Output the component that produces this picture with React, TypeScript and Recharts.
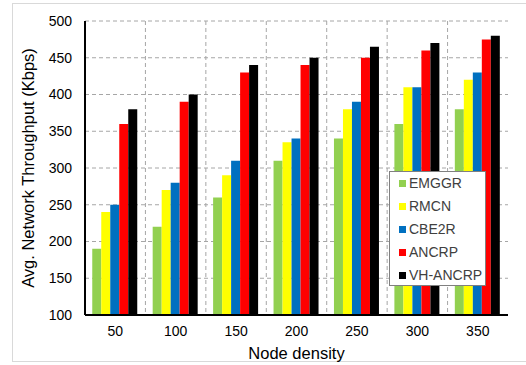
import React from 'react';
import { BarChart, Bar, XAxis, YAxis, CartesianGrid, Legend } from 'recharts';

const categories = ['50', '100', '150', '200', '250', '300', '350'];
const emggr = [190, 220, 260, 310, 340, 360, 380];
const rmcn = [240, 270, 290, 335, 380, 410, 420];
const cbe2r = [250, 280, 310, 340, 390, 410, 430];
const ancrp = [360, 390, 430, 440, 450, 460, 475];
const vhancrp = [380, 400, 440, 450, 465, 470, 480];
const yTicks = [100, 150, 200, 250, 300, 350, 400, 450, 500];

const seriesNames = ['EMGGR', 'RMCN', 'CBE2R', 'ANCRP', 'VH-ANCRP'];
const seriesColors = ['#92D050', '#FFFF00', '#0070C0', '#FF0000', '#000000'];
const seriesValues = [emggr, rmcn, cbe2r, ancrp, vhancrp];

const data = categories.map((c, i) => {
  const row: Record<string, number | string> = { x: c };
  seriesNames.forEach((n, s) => {
    row[n] = seriesValues[s][i];
  });
  return row;
});

const FONT = '"Liberation Sans", Arial, sans-serif';

const renderLegend = () => {
  return (
    <div
      style={{
        width: 97,
        height: 115,
        boxSizing: 'border-box',
        border: '1px solid #808080',
        background: '#fff',
        paddingTop: 0,
        fontFamily: FONT,
      }}
    >
      {seriesNames.map((n, s) => (
        <div key={n} style={{ display: 'flex', alignItems: 'center', height: 23, whiteSpace: 'nowrap' }}>
          <span style={{ display: 'inline-block', width: 7, height: 7, background: seriesColors[s], marginLeft: 9, marginRight: 3, flexShrink: 0 }} />
          <span style={{ fontSize: 14, color: '#404040', lineHeight: '23px' }}>{n}</span>
        </div>
      ))}
    </div>
  );
};

const YLabel = (props: any) => {
  const vb = props.viewBox || { x: 0, y: 0, width: 0, height: 0 };
  const cx = vb.x + 28;
  const cy = vb.y + vb.height / 2;
  return (
    <text
      x={cx}
      y={cy}
      transform={`rotate(-90, ${cx}, ${cy})`}
      textAnchor="middle"
      dominantBaseline="central"
      fontFamily={FONT}
      fontSize={16.5}
      fill="#000"
    >
      Avg. Network Throughput (Kbps)
    </text>
  );
};

export default function App() {
  return (
    <div style={{ position: 'absolute', left: 0, top: 0, width: 526, height: 365, background: '#fff' }}>
      <div
        style={{
          position: 'absolute',
          left: 12,
          top: 3,
          width: 530,
          height: 359,
          border: '1px solid #d9d9d9',
          boxSizing: 'border-box',
        }}
      />
      <div style={{ position: 'absolute', left: 0, top: 0 }}>
        <BarChart
          width={526}
          height={365}
          data={data}
          margin={{ top: 21, right: 18, bottom: 0, left: 0 }}
          barCategoryGap="12%"
          barGap={0}
        >
          <CartesianGrid
            stroke="#a6a6a6"
            strokeDasharray="4 3"
            verticalCoordinatesGenerator={({ offset }: any) =>
              categories.slice(1).map((_, k) => offset.left + (offset.width * (k + 1)) / categories.length)
            }
          />
          <XAxis
            dataKey="x"
            height={50}
            tickLine={false}
            tickSize={0}
            tickMargin={11}
            axisLine={{ stroke: '#000', strokeWidth: 2 }}
            tick={{ fontFamily: FONT, fontSize: 14, fill: '#000' }}
            label={{ value: 'Node density', position: 'insideBottom', offset: 6, fontFamily: FONT, fontSize: 16.5, fill: '#000' }}
          />
          <XAxis
            xAxisId="top"
            dataKey="x"
            orientation="top"
            height={0}
            tick={false}
            tickLine={false}
            axisLine={{ stroke: '#000', strokeWidth: 1.5 }}
          />
          <YAxis
            width={85}
            domain={[100, 500]}
            ticks={yTicks}
            allowDataOverflow
            tickLine={false}
            tickSize={0}
            tickMargin={13}
            axisLine={{ stroke: '#000', strokeWidth: 2 }}
            tick={{ fontFamily: FONT, fontSize: 14, fill: '#000' }}
            label={<YLabel />}
          />
          <YAxis
            yAxisId="right"
            orientation="right"
            width={0}
            domain={[100, 500]}
            tick={false}
            tickLine={false}
            axisLine={{ stroke: '#000', strokeWidth: 1.5 }}
          />
          <Legend
            layout="vertical"
            align="center"
            verticalAlign="middle"
            content={renderLegend}
            wrapperStyle={{ position: 'absolute', left: 389, top: 171, width: 97, height: 115 }}
          />
          {seriesNames.map((n, s) => (
            <Bar key={n} dataKey={n} fill={seriesColors[s]} isAnimationActive={false} />
          ))}
        </BarChart>
      </div>
    </div>
  );
}
